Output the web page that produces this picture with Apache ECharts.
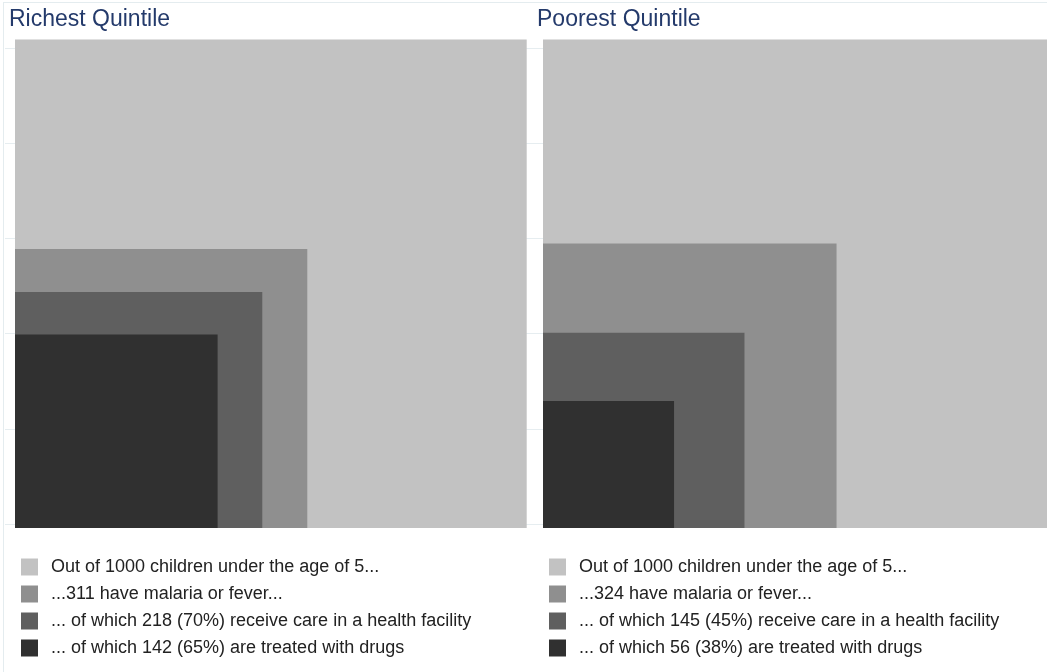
<!DOCTYPE html>
<html>
<head>
<meta charset="utf-8">
<script src="https://cdn.jsdelivr.net/npm/echarts@6/dist/echarts.min.js"></script>
<style>
  html, body { margin: 0; padding: 0; background: #fff; }
  #chart { width: 1047px; height: 672px; }
</style>
</head>
<body>
<div id="chart"></div>
<script>
// Children per 1000 under age 5, by step of the care cascade
const panelTitles = ['Richest Quintile', 'Poorest Quintile'];
const richestCounts = [1000, 311, 218, 142];
const poorestCounts = [1000, 324, 145, 56];
const richestLabels = [
  'Out of 1000 children under the age of 5...',
  '...311 have malaria or fever...',
  '... of which 218 (70%) receive care in a health facility',
  '... of which 142 (65%) are treated with drugs'
];
const poorestLabels = [
  'Out of 1000 children under the age of 5...',
  '...324 have malaria or fever...',
  '... of which 145 (45%) receive care in a health facility',
  '... of which 56 (38%) are treated with drugs'
];
const shades = ['#c2c2c2', '#8f8f8f', '#5f5f5f', '#303030'];

// Square side is the square root of the count; squares share the bottom-left corner
const AXIS_MIN = -1;
const AXIS_MAX = Math.sqrt(1000);
const FONT = '"Liberation Sans", Arial, sans-serif';

function renderSquare(params, api) {
  const side = Math.sqrt(api.value(0));
  const p0 = api.coord([AXIS_MIN, AXIS_MIN]);
  const p1 = api.coord([side, side]);
  return {
    type: 'rect',
    shape: { x: p0[0], y: p1[1], width: p1[0] - p0[0], height: p0[1] - p1[1] },
    style: { fill: api.visual('color') }
  };
}

function panelSeries(counts, labels, axisIndex) {
  return counts.map((v, i) => ({
    type: 'custom',
    name: labels[i],
    xAxisIndex: axisIndex,
    yAxisIndex: axisIndex,
    dimensions: ['count'],
    encode: { x: 0, y: 0 },
    data: [[v]],
    itemStyle: { color: shades[i] },
    renderItem: renderSquare,
    silent: true,
    z: 2
  }));
}

const squareAxis = (gridIndex) => ({
  gridIndex, type: 'value', min: AXIS_MIN, max: AXIS_MAX, show: false
});

const legendCommon = {
  orient: 'vertical',
  top: 553,
  icon: 'rect',
  itemWidth: 17,
  itemHeight: 17,
  itemGap: 9,
  selectedMode: false,
  textStyle: { fontFamily: FONT, fontSize: 18, color: '#222', lineHeight: 17, padding: [0, 0, 0, 8] }
};

const titleStyle = { fontFamily: FONT, fontSize: 23, fontWeight: 'normal', color: '#243a6b' };

const chart = echarts.init(document.getElementById('chart'), null, { renderer: 'canvas' });
chart.setOption({
  animation: false,
  backgroundColor: '#fff',
  title: [
    { text: panelTitles[0], left: 4, top: 3, textStyle: titleStyle },
    { text: panelTitles[1], left: 532, top: 3, textStyle: titleStyle }
  ],
  graphic: [
    { type: 'line', shape: { x1: 3, y1: 2.5, x2: 1047, y2: 2.5 }, style: { stroke: '#e4ecef', lineWidth: 1 }, z: 0 },
    { type: 'line', shape: { x1: 3.5, y1: 2, x2: 3.5, y2: 672 }, style: { stroke: '#e4ecef', lineWidth: 1 }, z: 0 }
  ],
  grid: [
    { left: 15, top: 39.5, width: 511.7, height: 488.5 },
    { left: 543, top: 39.5, width: 507, height: 488.5 },
    { left: 5, top: 48, width: 1042, height: 476 }
  ],
  xAxis: [
    squareAxis(0),
    squareAxis(1),
    { gridIndex: 2, type: 'value', min: 0, max: 1, show: false }
  ],
  yAxis: [
    squareAxis(0),
    squareAxis(1),
    { gridIndex: 2, type: 'value', min: 0, max: 5, interval: 1, z: 0,
      axisLine: { show: false }, axisTick: { show: false }, axisLabel: { show: false },
      splitLine: { show: true, lineStyle: { color: '#e6edf0', width: 1 } } }
  ],
  legend: [
    Object.assign({ left: 16, data: richestLabels }, legendCommon),
    Object.assign({ left: 544, data: poorestLabels }, legendCommon)
  ],
  series: panelSeries(richestCounts, richestLabels, 0)
    .concat(panelSeries(poorestCounts, poorestLabels, 1))
});
</script>
</body>
</html>
